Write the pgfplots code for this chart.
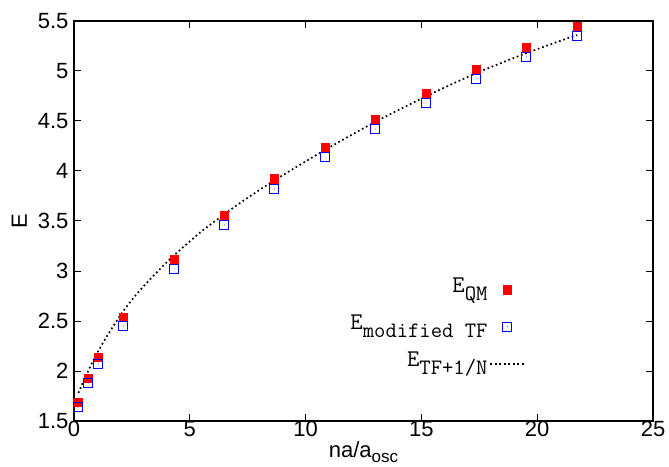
\documentclass[border=0pt]{standalone}
\usepackage{fontspec}
\setmainfont{Liberation Sans}
\usepackage{pgfplots}
\pgfplotsset{compat=1.18}
\pgfplotsset{longline/.style={legend image code/.code={\draw[##1, sharp plot] (-0.3cm,0cm) -- (0.9cm,0cm);}}}
\pgfdeclareplotmark{sqdot}{%
  \pgfpathrectangle{\pgfpoint{-\pgfplotmarksize}{-\pgfplotmarksize}}{\pgfpoint{2\pgfplotmarksize}{2\pgfplotmarksize}}%
  \pgfusepathqstroke
  \pgfpathcircle{\pgfpointorigin}{0.45pt}\pgfusepathqfill}
\newcommand{\lgd}[1]{{\fontsize{24}{24}\selectfont\ttfamily E\raisebox{-8pt}{\fontsize{22}{22}\selectfont #1}}}
\begin{document}
\begin{tikzpicture}
\begin{axis}[
  scale only axis, width=579pt, height=400pt,
  xmin=0, xmax=25, ymin=1.5, ymax=5.5,
  xtick={0,5,10,15,20,25},
  ytick={1.5,2,2.5,3,3.5,4,4.5,5,5.5},
  yticklabels={1.5,2,2.5,3,3.5,4,4.5,5,5.5},
  tick align=inside, major tick length=7pt,
  axis line style={line width=1.3pt}, every tick/.style={black, line width=1pt},
  /pgf/number format/assume math mode=true,
  ticklabel style={font=\fontsize{22}{24}\selectfont},
  xticklabel style={yshift=3pt},
  yticklabel style={xshift=-2pt},
  xlabel={na/a\raisebox{-5pt}{\fontsize{17}{17}\selectfont osc}}, ylabel={E},
  every axis x label/.style={at={(axis description cs:0.5,-0.09)}, anchor=base, font=\fontsize{22}{24}\selectfont},
  every axis y label/.style={at={(axis description cs:-0.0812,0.5)}, rotate=90, anchor=base, font=\fontsize{22}{24}\selectfont},
  legend plot pos=right, legend cell align=right,
  legend style={draw=none, fill=none, at={(axis description cs:0.785,0.37)}, anchor=north east,
    nodes={inner sep=2pt, text height=15pt, text depth=10pt}, row sep=8pt,
    /tikz/every even column/.append style={column sep=15pt}},
]
\addplot[only marks, mark=square*, mark size=4.3pt, color=red, fill=red] coordinates {
(0.17,1.69) (0.62,1.93) (1.05,2.14) (2.13,2.54) (4.33,3.11) (6.49,3.55) (8.65,3.92) (10.85,4.23) (13.00,4.51) (15.20,4.77) (17.37,5.01) (19.53,5.23) (21.73,5.44)
};
\addlegendentry{\lgd{QM}}
\addplot[only marks, mark=sqdot, mark size=4.5pt, color=blue, line width=1pt] coordinates {
(0.17,1.64) (0.62,1.88) (1.05,2.07) (2.13,2.45) (4.33,3.02) (6.49,3.46) (8.65,3.82) (10.85,4.14) (13.00,4.42) (15.20,4.68) (17.37,4.92) (19.53,5.14) (21.73,5.35)
};
\addlegendentry{\lgd{modified TF}}
\addplot[black, line width=1.7pt, dash pattern=on 1.7pt off 2.8pt, smooth, longline] coordinates {
(0.19,1.78) (0.55,1.97) (0.91,2.14) (1.27,2.29) (1.70,2.45) (2.13,2.60) (2.71,2.77) (3.42,2.95) (4.15,3.12) (4.87,3.27) (5.58,3.41) (6.45,3.56) (7.17,3.68) (8.61,3.90) (10.76,4.20) (12.92,4.48) (15.23,4.75) (17.39,4.98) (19.55,5.18) (21.71,5.36)
};
\addlegendentry{\lgd{TF+1/N}}
\end{axis}
\pgfresetboundingbox
\useasboundingbox ([xshift=-74pt,yshift=-45pt]current axis.south west) rectangle ([xshift=16pt,yshift=21pt]current axis.north east);
\end{tikzpicture}
\end{document}
